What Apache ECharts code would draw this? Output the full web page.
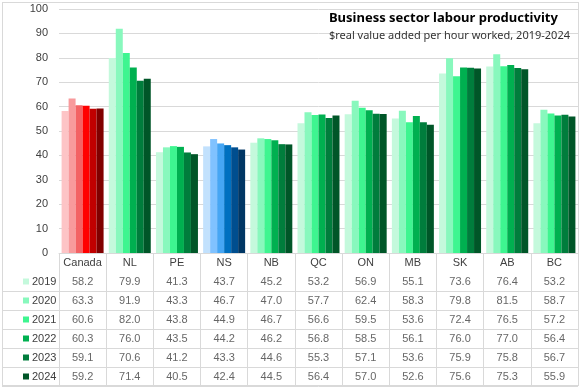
<!DOCTYPE html>
<html><head><meta charset="utf-8">
<script src="https://cdn.jsdelivr.net/npm/echarts@6/dist/echarts.min.js"></script>
<style>html,body{margin:0;padding:0;background:#fff}#c{width:580px;height:388px;position:relative}#b{position:absolute;left:2px;top:2px;width:575px;height:382px;border:1px solid #d9d9d9;pointer-events:none}</style>
</head><body><div id="c"></div><div id="b"></div>
<script>
const categories = ['Canada','NL','PE','NS','NB','QC','ON','MB','SK','AB','BC'];
const years = ['2019','2020','2021','2022','2023','2024'];
const v2019 = [58.2,79.9,41.3,43.7,45.2,53.2,56.9,55.1,73.6,76.4,53.2];
const v2020 = [63.3,91.9,43.3,46.7,47.0,57.7,62.4,58.3,79.8,81.5,58.7];
const v2021 = [60.6,82.0,43.8,44.9,46.7,56.6,59.5,53.6,72.4,76.5,57.2];
const v2022 = [60.3,76.0,43.5,44.2,46.2,56.8,58.5,56.1,76.0,77.0,56.4];
const v2023 = [59.1,70.6,41.2,43.3,44.6,55.3,57.1,53.6,75.9,75.8,56.7];
const v2024 = [59.2,71.4,40.5,42.4,44.5,56.4,57.0,52.6,75.6,75.3,55.9];
const yTicks = [0,10,20,30,40,50,60,70,80,90,100];
const values = [v2019,v2020,v2021,v2022,v2023,v2024];

const greens = ['#c4f9dc','#88f8bd','#3ef590','#00b050','#007d3c','#005628'];
const reds = ['#fdc4c6','#f89a9c','#f36264','#ff0000','#c00000','#800000'];
const blues = ['#c2e1fd','#80c2ff','#46a6f4','#0070c0','#004e8f','#003664'];
const FONT = 'Liberation Sans';
const TXT = '#404040';

const chart = echarts.init(document.getElementById('c'), null, {renderer:'canvas'});

const barSeries = years.map((y, si) => ({
  name: y, type: 'bar', xAxisIndex: 0, yAxisIndex: 0,
  barGap: '0%', barCategoryGap: '11%',
  data: values[si],
  itemStyle: { color: p => p.dataIndex === 0 ? reds[si] : (p.dataIndex === 3 ? blues[si] : greens[si]) },
  emphasis: { disabled: true }
}));

const tableData = [];
years.forEach((y, si) => categories.forEach((c, ci) => tableData.push([ci, y, values[si][ci]])));

const rowCats = [''].concat(years);
const rich = { t: { fontFamily: FONT, fontSize: 11, color: TXT, padding: [0,0,0,3] } };
years.forEach((y, i) => { rich['m' + i] = { backgroundColor: greens[i], width: 6, height: 6 }; });

chart.setOption({
  animation: false,
  title: {
    text: 'Business sector labour productivity',
    subtext: '$real value added per hour worked, 2019-2024',
    right: 5, top: 7, itemGap: 5,
    textStyle: { fontFamily: 'Noto Sans', fontWeight: 'bold', fontSize: 13, color: '#000' },
    subtextStyle: { fontFamily: 'Noto Sans', fontSize: 11, color: '#333' }
  },
  grid: [
    { left: 59, right: 2, top: 9, height: 244 },
    { left: 59, right: 2, top: 253, height: 133 },
    { left: 2, width: 57, top: 253, height: 133 }
  ],
  xAxis: [
    { type: 'category', gridIndex: 0, data: categories,
      axisLine: { lineStyle: { color: '#d9d9d9' } }, axisTick: { show: false },
      axisLabel: { fontFamily: FONT, fontSize: 11, color: TXT, margin: 4, interval: 0 } },
    { type: 'category', gridIndex: 1, data: categories, position: 'bottom',
      axisLine: { show: false }, axisTick: { show: false }, axisLabel: { show: false },
      splitLine: { show: true, interval: 0, lineStyle: { color: '#d9d9d9' } } },
    { type: 'value', gridIndex: 2, show: false }
  ],
  yAxis: [
    { type: 'value', gridIndex: 0, min: 0, max: 100, interval: 10,
      axisLine: { show: false }, axisTick: { show: false },
      splitLine: { lineStyle: { color: '#d9d9d9' } },
      axisLabel: { fontFamily: FONT, fontSize: 11, color: TXT, margin: 11,
        formatter: v => yTicks.indexOf(v) >= 0 ? String(v) : '' } },
    { type: 'category', gridIndex: 1, data: rowCats, inverse: true,
      axisLine: { show: false }, axisTick: { show: false }, axisLabel: { show: false },
      splitLine: { show: true, interval: i => i !== 1, lineStyle: { color: '#d9d9d9' } } },
    { type: 'category', gridIndex: 2, data: rowCats, inverse: true,
      axisLine: { show: false }, axisTick: { show: false },
      axisLabel: { inside: true, margin: 21, interval: 0,
        formatter: (v) => { const i = years.indexOf(v); return i < 0 ? '' : '{m' + i + '|}{t|' + v + '}'; },
        rich: rich },
      splitLine: { show: true, interval: i => i >= 2, lineStyle: { color: '#d9d9d9' } } }
  ],
  series: barSeries.concat([{
    type: 'scatter', xAxisIndex: 1, yAxisIndex: 1, data: tableData,
    symbolSize: 1, itemStyle: { color: 'rgba(0,0,0,0)' }, silent: true,
    label: { show: true, position: 'inside', fontFamily: FONT, fontSize: 11, color: TXT,
      formatter: p => p.value[2].toFixed(1) }
  }])
});
</script></body></html>
